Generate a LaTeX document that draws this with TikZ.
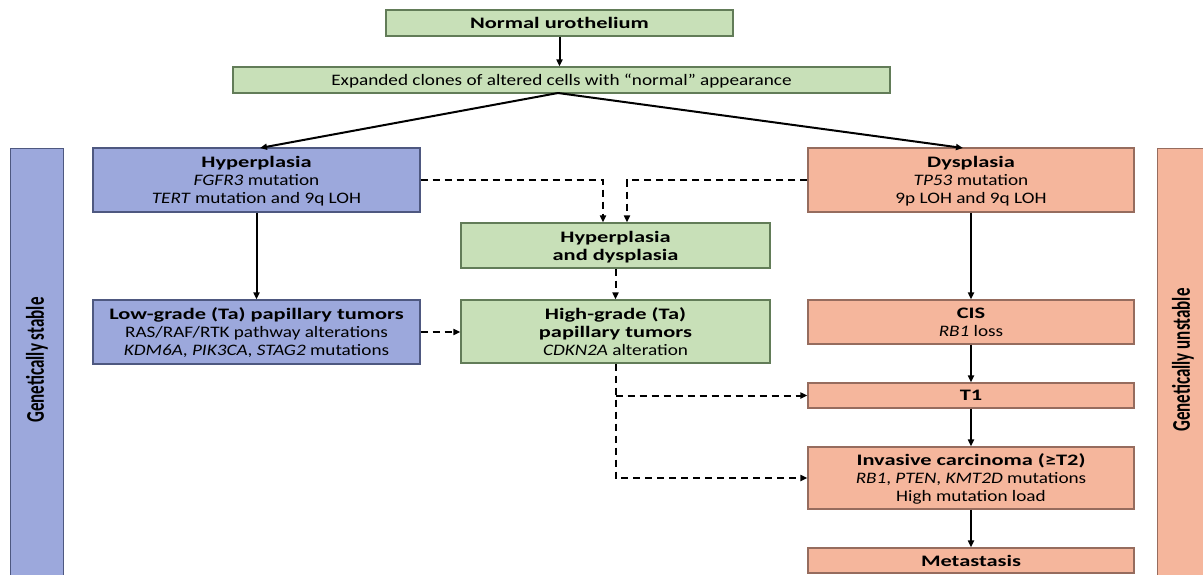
\documentclass[tikz,border=0pt]{standalone}
\usepackage{fontspec}
\setmainfont{Carlito}[FakeStretch=1.2, BoldFeatures={FakeStretch=1.4}, BoldItalicFeatures={FakeStretch=1.4}]
\newfontfamily\sidefont{Carlito}
\usetikzlibrary{arrows.meta}
\definecolor{bluefill}{RGB}{156,168,220}
\definecolor{blueline}{RGB}{78,88,128}
\definecolor{greenfill}{RGB}{200,224,184}
\definecolor{greenline}{RGB}{98,124,88}
\definecolor{salfill}{RGB}{245,182,156}
\definecolor{salline}{RGB}{150,108,94}
\newcommand{\tallside}[1]{\scalebox{1}[1.5]{#1}}
\tikzset{
  box/.style={draw, line width=1.2pt, inner sep=0pt, align=center, text depth=0pt,
    font=\fontsize{16}{18}\selectfont},
  bluebox/.style={box, fill=bluefill, draw=blueline},
  greenbox/.style={box, fill=greenfill, draw=greenline},
  salbox/.style={box, fill=salfill, draw=salline},
  sidelabel/.style={font=\sidefont\bfseries\fontsize{17}{20}\selectfont, rotate=90},
  solidarrow/.style={line width=2pt, -{Triangle[length=7pt,width=6pt]}},
  dasharrow/.style={line width=2pt, dash pattern=on 7pt off 5pt, -{Triangle[length=7pt,width=6pt]}},
}
\begin{document}
\begin{tikzpicture}[x=1pt,y=-1pt]
\clip (0,0) rectangle (1203,574);
\fill[white] (0,0) rectangle (1203,574);
% side bars
\node[bluebox, minimum width=53pt, minimum height=432pt, anchor=north west] (stable) at (10,148) {};
\node[sidelabel] (stabletxt) at (37,360) {\tallside{Genetically stable}};
\node[salbox, minimum width=53pt, minimum height=432pt, anchor=north west] (unstable) at (1157,148) {};
\node[sidelabel] (unstabletxt) at (1183,360) {\tallside{Genetically unstable}};
% top
\node[greenbox, minimum width=347pt, minimum height=26pt] (normal) at (559.5,23) {\textbf{Normal urothelium}};
\node[greenbox, minimum width=657pt, minimum height=26pt] (clones) at (561.5,80) {Expanded clones of altered cells with “normal” appearance};
% left column
\node[bluebox, minimum width=327pt, minimum height=64pt] (hyper) at (256.5,180) {\textbf{Hyperplasia}\\\textit{FGFR3} mutation\\\textit{TERT} mutation and 9q LOH};
\node[bluebox, minimum width=327pt, minimum height=64pt] (low) at (256.5,332) {\textbf{Low-grade (Ta) papillary tumors}\\RAS/RAF/RTK pathway alterations\\\textit{KDM6A}, \textit{PIK3CA}, \textit{STAG2} mutations};
% middle column
\node[greenbox, minimum width=309pt, minimum height=45pt] (hypdys) at (615.5,245.5) {\textbf{Hyperplasia}\\\textbf{and dysplasia}};
\node[greenbox, minimum width=309pt, minimum height=63pt] (high) at (615.5,331.5) {\textbf{High-grade (Ta)}\\\textbf{papillary tumors}\\\textit{CDKN2A} alteration};
% right column
\node[salbox, minimum width=326pt, minimum height=64pt] (dysp) at (971,180) {\textbf{Dysplasia}\\\textit{TP53} mutation\\9p LOH and 9q LOH};
\node[salbox, minimum width=326pt, minimum height=44pt] (cis) at (971,322) {\textbf{CIS}\\\textit{RB1} loss};
\node[salbox, minimum width=326pt, minimum height=25pt] (t1) at (971,395.5) {\textbf{T1}};
\node[salbox, minimum width=326pt, minimum height=62pt] (inv) at (971,478) {\mbox{\textbf{Invasive carcinoma (≥T2)}}\\\textit{RB1}, \textit{PTEN}, \textit{KMT2D} mutations\\High mutation load};
\node[salbox, minimum width=326pt, minimum height=25pt] (meta) at (971,560.5) {\textbf{Metastasis}};
% solid arrows
\coordinate (split) at (558,93);
\draw[solidarrow] (normal.south) -- (normal.south |- clones.north);
\draw[solidarrow] (split) -- (260,148);
\draw[solidarrow] (split) -- (963,148);
\draw[solidarrow] (hyper.south) -- (low.north);
\draw[solidarrow] (dysp.south) -- (cis.north);
\draw[solidarrow] (cis.south) -- (t1.north);
\draw[solidarrow] (t1.south) -- (inv.north);
\draw[solidarrow] (inv.south) -- (meta.north);
% dashed arrows
\coordinate (hk) at (603,180);
\coordinate (dk) at (627,180);
\draw[dasharrow] (hyper.east) -- (hk) -- (hk |- hypdys.north);
\draw[dasharrow] (dysp.west) -- (dk) -- (dk |- hypdys.north);
\draw[dasharrow] (hypdys.south) -- (high.north);
\draw[dasharrow] (low.east) -- (low.east -| high.west);
\coordinate (bend) at (high.south |- inv.west);
\coordinate (branch) at (high.south |- t1.west);
\draw[dasharrow] (high.south) -- (bend) -- (inv.west);
\draw[dasharrow] (branch) -- (t1.west);
\end{tikzpicture}
\end{document}
